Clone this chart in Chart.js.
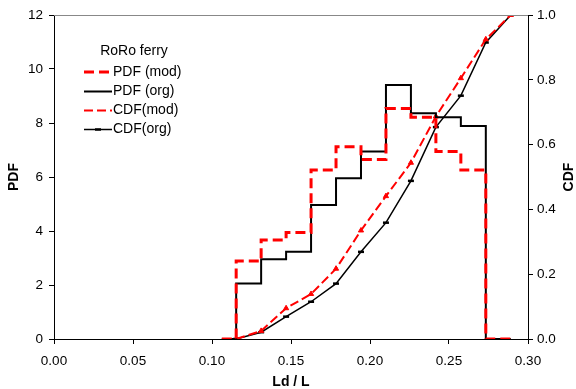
<!DOCTYPE html>
<html>
<head>
<meta charset="utf-8">
<script src="https://cdn.jsdelivr.net/npm/chart.js@4"></script>
<style>
body { margin: 0; background: #fff; }
</style>
</head>
<body>
<canvas id="myChart" width="576" height="389"></canvas>
<script>

// histogram edges (Ld/L) for the PDF steps, last two points close the bars
var pdfX   = [0.1062, 0.1153, 0.1311, 0.1469, 0.1627, 0.1785, 0.1943, 0.2101, 0.2259, 0.2417, 0.2575, 0.2733, 0.2891];
var pdfMod = [0, 2.89, 3.67, 3.94, 6.26, 7.12, 6.65, 8.54, 8.21, 6.94, 6.26, 0, 0];
var pdfOrg = [0, 2.06, 2.95, 3.23, 4.96, 5.95, 6.94, 9.41, 8.36, 8.21, 7.89, 0, 0];

// cumulative curves at the same edges
var cdfX   = [0.1153, 0.1311, 0.1469, 0.1627, 0.1785, 0.1943, 0.2101, 0.2259, 0.2417, 0.2575, 0.2733, 0.2891];
var cdfMod = [0, 0.025, 0.095, 0.139, 0.217, 0.335, 0.441, 0.544, 0.687, 0.805, 0.925, 1.0];
var cdfOrg = [0, 0.021, 0.069, 0.115, 0.171, 0.269, 0.359, 0.488, 0.654, 0.751, 0.915, 1.0];

var legendTitle = "RoRo ferry";
var FONT = "'Liberation Sans', Arial, sans-serif";

function pts(xs, ys) {
	return xs.map(function (x, i) { return { x: x, y: ys[i] }; });
}

var data = {
	datasets: [
		{
			label: "PDF (mod)",
			data: pts(pdfX, pdfMod),
			yAxisID: "y",
			stepped: true,
			borderColor: "#ff0000",
			borderWidth: 3,
			borderDash: [10, 5],
			pointRadius: 0
		},
		{
			label: "PDF (org)",
			data: pts(pdfX, pdfOrg),
			yAxisID: "y",
			stepped: true,
			borderColor: "#000000",
			borderWidth: 2,
			pointRadius: 0
		},
		{
			label: "CDF(mod)",
			data: pts(cdfX, cdfMod),
			yAxisID: "y2",
			borderColor: "#ff0000",
			borderWidth: 2,
			borderDash: [9, 4],
			pointStyle: "triangle",
			pointRadius: 3,
			pointBackgroundColor: "#ff0000",
			pointBorderColor: "#ff0000",
			pointBorderWidth: 1
		},
		{
			label: "CDF(org)",
			data: pts(cdfX, cdfOrg),
			yAxisID: "y2",
			borderColor: "#000000",
			borderWidth: 1.5,
			pointStyle: "line",
			pointRadius: 3,
			pointBorderColor: "#000000",
			pointBorderWidth: 2.5
		}
	]
};

// top frame line, rotated right title and the legend box inside the plot
var extras = {
	id: "extras",
	afterDraw: function (chart) {
		var ctx = chart.ctx;
		var a = chart.chartArea;
		ctx.save();
		ctx.strokeStyle = "#888888";
		ctx.lineWidth = 1;
		ctx.beginPath();
		ctx.moveTo(a.left, a.top + 0.5);
		ctx.lineTo(a.right, a.top + 0.5);
		ctx.stroke();

		ctx.fillStyle = "#000";
		ctx.font = "bold 14px " + FONT;
		ctx.textAlign = "center";
		ctx.textBaseline = "middle";
		ctx.translate(569, (a.top + a.bottom) / 2);
		ctx.rotate(-Math.PI / 2);
		ctx.fillText("CDF", 0, 0);
		ctx.restore();

		ctx.save();
		ctx.font = "14px " + FONT;
		ctx.fillStyle = "#000";
		ctx.textBaseline = "middle";
		ctx.textAlign = "center";
		ctx.fillText(legendTitle, 134, 51);
		ctx.textAlign = "left";
		var rows = [72, 91.5, 110.5, 129.5];
		chart.data.datasets.forEach(function (ds, i) {
			var y = rows[i];
			ctx.save();
			ctx.strokeStyle = ds.borderColor;
			ctx.lineWidth = ds.borderWidth;
			ctx.setLineDash(ds.borderDash || []);
			ctx.beginPath();
			ctx.moveTo(84, y);
			ctx.lineTo(112, y);
			ctx.stroke();
			if (ds.pointStyle === "line") {
				ctx.setLineDash([]);
				ctx.lineWidth = 2.5;
				ctx.beginPath();
				ctx.moveTo(95, y);
				ctx.lineTo(101, y);
				ctx.stroke();
			}
			ctx.restore();
			ctx.fillText(ds.label, 113, y);
		});
		ctx.restore();
	}
};

var tickFont = { family: FONT, size: 13.5 };
var titleFont = { family: FONT, size: 14, weight: "bold", lineHeight: 1 };

var ctx = document.getElementById("myChart");
var chartInstance = new Chart(ctx, {
	type: "line",
	data: data,
	plugins: [extras],
	options: {
		responsive: false,
		animation: false,
		layout: { padding: { top: 15 } },
		plugins: {
			legend: { display: false },
			tooltip: { enabled: false }
		},
		scales: {
			x: {
				type: "linear",
				min: 0,
				max: 0.3,
				ticks: {
					stepSize: 0.05,
					color: "#000",
					font: tickFont,
					padding: 9,
					maxRotation: 0,
					callback: function (v) { return v.toFixed(2); }
				},
				grid: { drawOnChartArea: false, tickLength: 5, color: "#000" },
				border: { color: "#000" },
				title: { display: true, text: "Ld / L", color: "#000", font: titleFont, padding: 0 },
				afterFit: function (s) { s.height = 50; }
			},
			y: {
				position: "left",
				min: 0,
				max: 12,
				ticks: { stepSize: 2, color: "#000", font: tickFont, padding: 6 },
				grid: { drawOnChartArea: false, tickLength: 5, color: "#000" },
				border: { color: "#000" },
				title: { display: true, text: "PDF", color: "#000", font: titleFont, padding: { top: 7, bottom: 0 } },
				afterFit: function (s) { s.width = 54; }
			},
			y2: {
				position: "right",
				min: 0,
				max: 1,
				ticks: {
					stepSize: 0.2,
					color: "#000",
					font: tickFont,
					padding: 4,
					callback: function (v) { return v.toFixed(1); }
				},
				grid: { drawOnChartArea: false, tickLength: 5, color: "#000" },
				border: { color: "#000" },
				afterFit: function (s) { s.width = 48; }
			}
		}
	}
});

</script>
</body>
</html>
